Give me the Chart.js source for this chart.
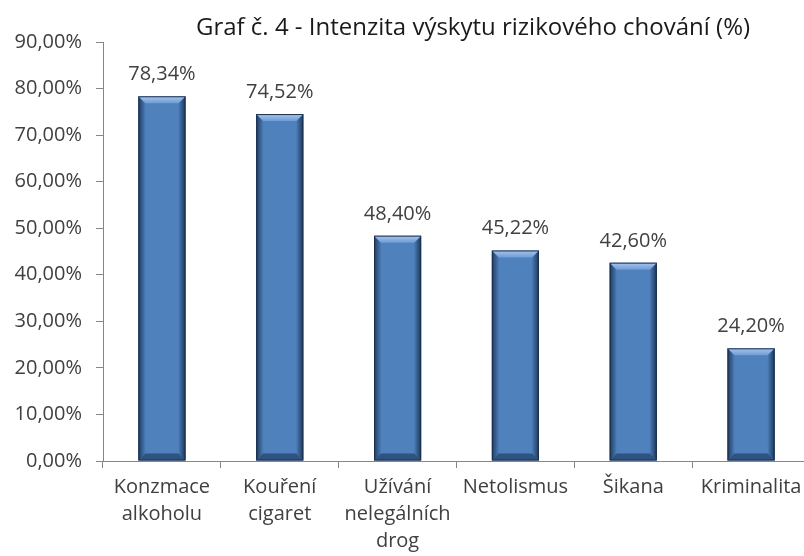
<!DOCTYPE html>
<html lang="cs">
<head>
    <meta charset="UTF-8">
    <title>Graf č. 4</title>
    <script src="https://cdn.jsdelivr.net/npm/chart.js"></script>
    <style>
        html, body { margin: 0; padding: 0; background: #fff; overflow: hidden; }
        #wrap { position: relative; width: 812px; height: 556px; }
    </style>
</head>
<body>
    <div id="wrap">
        <canvas id="myChart"></canvas>
    </div>

    <script>
        // data
        const chartTitle = 'Graf č. 4 - Intenzita výskytu rizikového chování (%)';
        const categories = [
            ['Konzmace', 'alkoholu'],
            ['Kouření', 'cigaret'],
            ['Užívání', 'nelegálních', 'drog'],
            'Netolismus',
            'Šikana',
            'Kriminalita'
        ];
        const values = [78.34, 74.52, 48.40, 45.22, 42.60, 24.20];
        const yTicks = [0, 10, 20, 30, 40, 50, 60, 70, 80, 90];

        const fmt = v => v.toFixed(2).replace('.', ',') + '%';
        const textColor = '#404040';
        const axisColor = '#868686';
        const fontFamily = "'Open Sans', sans-serif";

        // bevel look of the Excel bars + value labels + title
        const bevelPlugin = {
            id: 'bevel',
            afterDatasetsDraw(chart) {
                const ctx = chart.ctx;
                const meta = chart.getDatasetMeta(0);
                meta.data.forEach((bar, i) => {
                    const p = bar.getProps(['x', 'y', 'width', 'base'], true);
                    const l = p.x - p.width / 2, r = p.x + p.width / 2;
                    const t = p.y, b = p.base;
                    const e = 7;
                    ctx.save();

                    // left edge
                    let g = ctx.createLinearGradient(l, 0, l + e, 0);
                    g.addColorStop(0, 'rgba(15,35,65,0.75)');
                    g.addColorStop(1, 'rgba(15,35,65,0.05)');
                    ctx.fillStyle = g;
                    ctx.beginPath();
                    ctx.moveTo(l, t); ctx.lineTo(l + e, t + e); ctx.lineTo(l + e, b - e); ctx.lineTo(l, b);
                    ctx.closePath(); ctx.fill();

                    // right edge
                    g = ctx.createLinearGradient(r, 0, r - e, 0);
                    g.addColorStop(0, 'rgba(15,35,65,0.8)');
                    g.addColorStop(1, 'rgba(15,35,65,0.05)');
                    ctx.fillStyle = g;
                    ctx.beginPath();
                    ctx.moveTo(r, t); ctx.lineTo(r - e, t + e); ctx.lineTo(r - e, b - e); ctx.lineTo(r, b);
                    ctx.closePath(); ctx.fill();

                    // top highlight
                    g = ctx.createLinearGradient(0, t, 0, t + e);
                    g.addColorStop(0, '#a9c6ec');
                    g.addColorStop(1, '#6f9bd6');
                    ctx.fillStyle = g;
                    ctx.beginPath();
                    ctx.moveTo(l, t); ctx.lineTo(r, t); ctx.lineTo(r - e, t + e); ctx.lineTo(l + e, t + e);
                    ctx.closePath(); ctx.fill();

                    // bottom shade
                    ctx.fillStyle = 'rgba(20,45,80,0.55)';
                    ctx.beginPath();
                    ctx.moveTo(l, b); ctx.lineTo(r, b); ctx.lineTo(r - e, b - e); ctx.lineTo(l + e, b - e);
                    ctx.closePath(); ctx.fill();

                    // outline
                    ctx.strokeStyle = '#1b2f4c';
                    ctx.lineWidth = 1;
                    ctx.strokeRect(l + 0.5, t + 0.5, p.width - 1, b - t - 1);

                    // value label
                    ctx.fillStyle = textColor;
                    ctx.font = '20px ' + fontFamily;
                    ctx.textAlign = 'center';
                    ctx.textBaseline = 'alphabetic';
                    ctx.fillText(fmt(values[i]), p.x, t - 16);
                    ctx.restore();
                });

                // title
                ctx.save();
                ctx.fillStyle = '#1a1a1a';
                ctx.font = '24px ' + fontFamily;
                ctx.textAlign = 'center';
                ctx.textBaseline = 'alphabetic';
                ctx.fillText(chartTitle, 473, 35);
                ctx.restore();
            }
        };

        const ctx = document.getElementById('myChart').getContext('2d');
        const myChart = new Chart(ctx, {
            type: 'bar',
            data: {
                labels: categories,
                datasets: [{
                    data: values,
                    backgroundColor: '#4f81bd',
                    borderWidth: 0,
                    categoryPercentage: 1,
                    barPercentage: 0.4
                }]
            },
            options: {
                responsive: true,
                maintainAspectRatio: false,
                animation: false,
                layout: { padding: { top: 42, right: 2, left: 0, bottom: 0 } },
                plugins: {
                    legend: { display: false },
                    tooltip: { enabled: false },
                    title: { display: false }
                },
                scales: {
                    x: {
                        grid: { drawOnChartArea: false, tickLength: 7, color: axisColor, offset: true },
                        border: { color: axisColor },
                        ticks: {
                            color: textColor,
                            font: { family: fontFamily, size: 20, lineHeight: 1.35 },
                            maxRotation: 0,
                            autoSkip: false,
                            padding: 6
                        },
                        afterFit(scale) { scale.height = 95; }
                    },
                    y: {
                        min: yTicks[0],
                        max: yTicks[yTicks.length - 1],
                        afterBuildTicks(scale) { scale.ticks = yTicks.map(v => ({ value: v })); },
                        grid: { drawOnChartArea: false, tickLength: 7, color: axisColor },
                        border: { color: axisColor },
                        ticks: {
                            color: textColor,
                            font: { family: fontFamily, size: 20 },
                            padding: 14,
                            callback: v => fmt(v)
                        },
                        afterFit(scale) { scale.width = 103; }
                    }
                }
            },
            plugins: [bevelPlugin]
        });
    </script>
</body>
</html>
